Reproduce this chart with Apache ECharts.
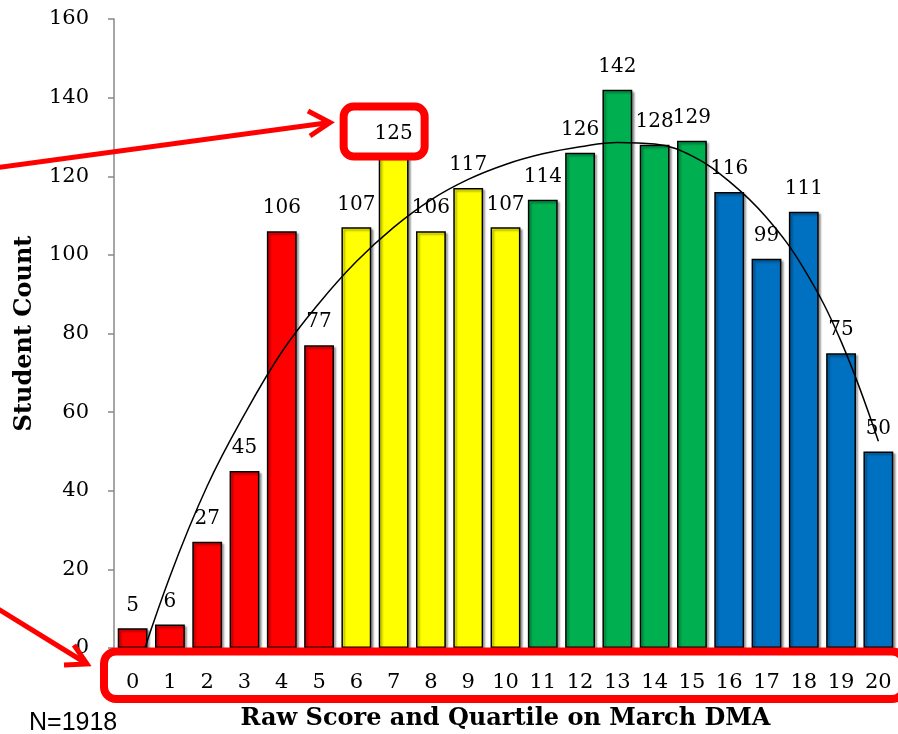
<!DOCTYPE html>
<html>
<head>
<meta charset="utf-8">
<title>Raw Score and Quartile on March DMA</title>
<script src="https://cdn.jsdelivr.net/npm/echarts@6/dist/echarts.min.js"></script>
<style>
  html, body { margin: 0; padding: 0; background: #ffffff; }
  #chart { width: 898px; height: 734px; }
</style>
</head>
<body>
<div id="chart"></div>
<script>
// Raw score categories (0-20) and number of students at each score
const categories = ['0','1','2','3','4','5','6','7','8','9','10','11','12','13','14','15','16','17','18','19','20'];
const counts = [5, 6, 27, 45, 106, 77, 107, 125, 106, 117, 107, 114, 126, 142, 128, 129, 116, 99, 111, 75, 50];

// Quartile each score falls into, and the colour of each quartile
const quartileOf = [0,0,0,0,0,0, 1,1,1,1,1, 2,2,2,2,2, 3,3,3,3,3];
const quartileColors = ['#FF0000', '#FFFF00', '#00B050', '#0070C0'];

// Polynomial trend curve values at each score
const trend = [-9.5, 18.2, 41.2, 59.4, 75.3, 87.7, 98.3, 107, 114, 119.2, 123, 125.7, 127.5, 128.6, 128.2, 125.2, 118.7, 109.5, 96.5, 78, 52.6];

// Y axis tick values
const yTicks = [0, 20, 40, 60, 80, 100, 120, 140, 160];

const totalStudents = 1918;

const serif = 'DejaVu Serif';
const chart = echarts.init(document.getElementById('chart'), null, { renderer: 'canvas' });

const option = {
  animation: false,
  backgroundColor: '#ffffff',
  grid: { left: 114, right: 1, top: 19, bottom: 86, containLabel: false, outerBoundsMode: 'none' },
  xAxis: {
    type: 'category',
    data: categories,
    name: 'Raw Score and Quartile on March DMA',
    nameLocation: 'middle',
    nameGap: 59,
    nameTextStyle: { fontFamily: serif, fontWeight: 'bold', fontSize: 24, color: '#000' },
    axisLine: { show: true, lineStyle: { color: '#888888', width: 1 } },
    axisTick: { show: false },
    axisLabel: { fontFamily: serif, fontSize: 21, color: '#000', margin: 24, interval: 0 },
    splitLine: { show: false }
  },
  yAxis: {
    type: 'value',
    min: yTicks[0],
    max: yTicks[yTicks.length - 1],
    interval: yTicks[1] - yTicks[0],
    name: 'Student Count',
    nameLocation: 'middle',
    nameGap: 77,
    nameRotate: 90,
    nameTextStyle: { fontFamily: serif, fontWeight: 'bold', fontSize: 24, color: '#000' },
    axisLine: { show: true, lineStyle: { color: '#888888', width: 1.5 } },
    axisTick: { show: true, length: 6, inside: false, lineStyle: { color: '#888888', width: 1.5 } },
    axisLabel: { fontFamily: serif, fontSize: 21, color: '#000', margin: 25 },
    splitLine: { show: false }
  },
  series: [
    {
      name: 'Student Count',
      type: 'bar',
      data: counts.map((v, i) => ({
        value: v,
        itemStyle: { color: quartileColors[quartileOf[i]] }
      })),
      barWidth: '80%',
      itemStyle: {
        borderColor: '#000000',
        borderWidth: 1.5,
        shadowColor: 'rgba(0,0,0,0.35)',
        shadowBlur: 2,
        shadowOffsetX: 2,
        shadowOffsetY: 2
      },
      label: {
        show: true,
        position: 'top',
        distance: 13,
        fontFamily: serif,
        fontSize: 20,
        color: '#000'
      },
      z: 2
    },
    {
      name: 'Trend',
      type: 'line',
      data: trend,
      smooth: 0.4,
      showSymbol: false,
      symbol: 'none',
      clip: true,
      lineStyle: { color: '#000000', width: 1.5 },
      z: 3,
      silent: true
    }
  ]
};

chart.setOption(option);

// Highlight box around the label of the score-7 bar, anchored to that bar
const peakIdx = 7;
const anchor = chart.convertToPixel({ gridIndex: 0 }, [peakIdx, counts[peakIdx]]);
const boxW = 81, boxH = 50;
const boxX = anchor[0] - 50, boxY = anchor[1] - 50;

chart.setOption({
  graphic: [
    // rounded frame around the score-7 label
    {
      type: 'rect',
      shape: { x: boxX, y: boxY, width: boxW, height: boxH, r: 10 },
      style: { fill: 'rgba(255,255,255,0)', stroke: '#FF0000', lineWidth: 8 },
      z: 100
    },
    // rounded frame around the score labels
    {
      type: 'rect',
      shape: { x: 104, y: 651.5, width: 800, height: 47.5, r: 12 },
      style: { fill: 'rgba(255,255,255,0)', stroke: '#FF0000', lineWidth: 8 },
      z: 100
    },
    // arrow pointing at the highlighted label
    {
      type: 'polyline',
      shape: { points: [[-5, 168], [326, 123]] },
      style: { stroke: '#FF0000', lineWidth: 5, fill: null },
      z: 100
    },
    {
      type: 'polyline',
      shape: { points: [[308, 111], [330, 122.5], [310, 136]] },
      style: { stroke: '#FF0000', lineWidth: 5, fill: null, lineJoin: 'miter' },
      z: 100
    },
    // arrow pointing at the score labels
    {
      type: 'polyline',
      shape: { points: [[-5, 607], [84, 662]] },
      style: { stroke: '#FF0000', lineWidth: 5, fill: null },
      z: 100
    },
    {
      type: 'polyline',
      shape: { points: [[74, 645], [87, 664], [64, 665]] },
      style: { stroke: '#FF0000', lineWidth: 5, fill: null, lineJoin: 'miter' },
      z: 100
    },
    // sample size note
    {
      type: 'text',
      left: 29,
      top: 711,
      style: { text: 'N=' + totalStudents, font: '25px "Liberation Sans", Arial, sans-serif', fill: '#000' },
      z: 100
    }
  ]
});
</script>
</body>
</html>
